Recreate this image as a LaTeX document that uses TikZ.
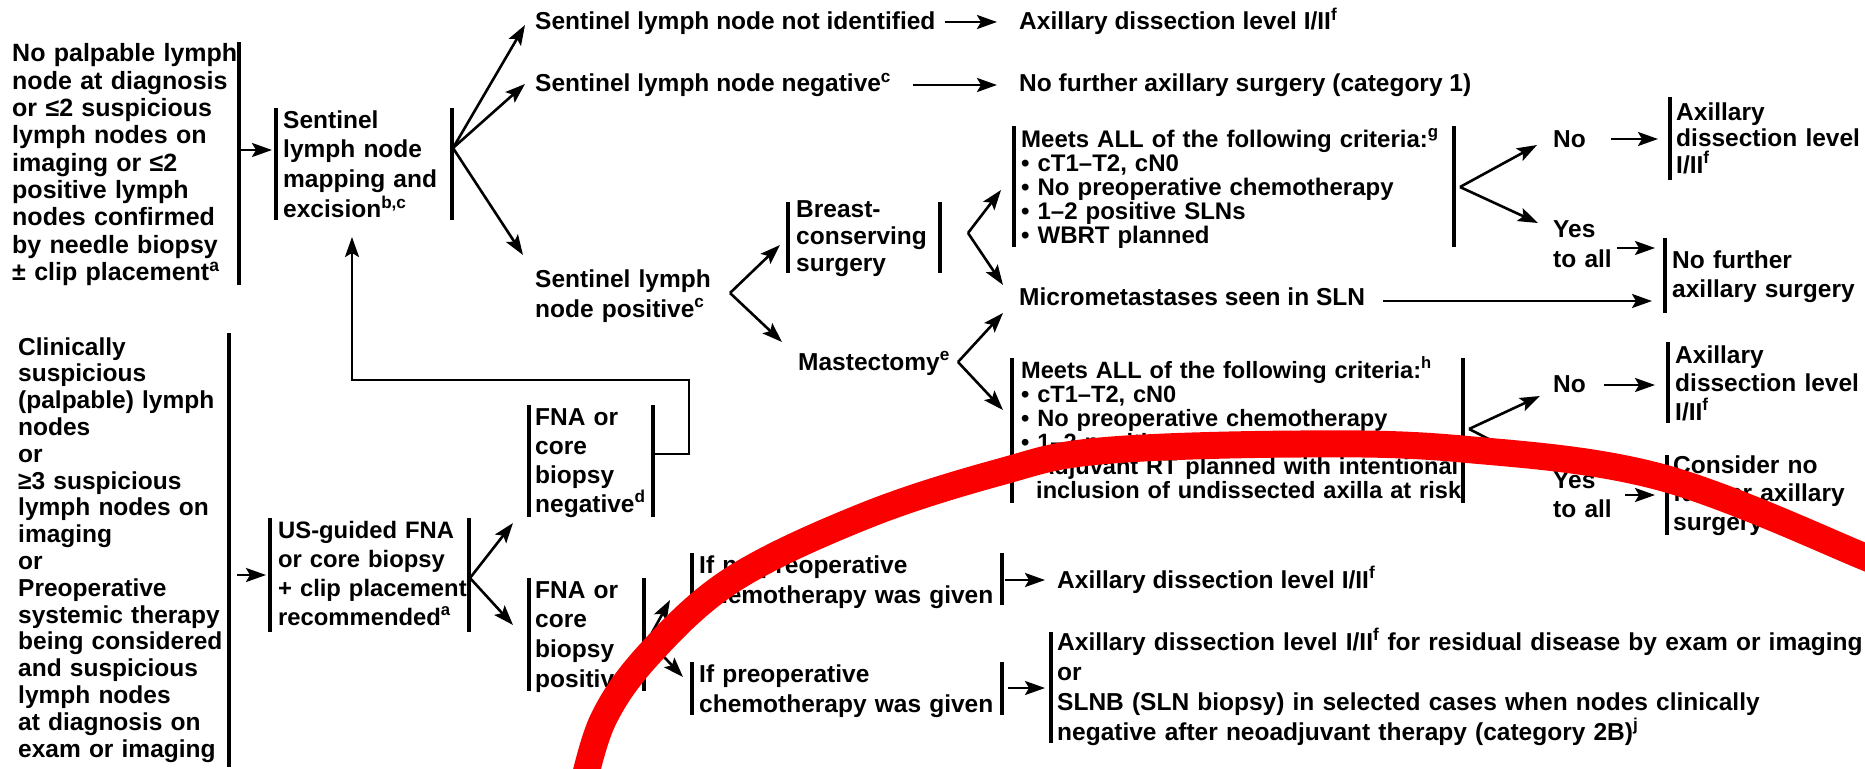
\documentclass[tikz,border=0pt]{standalone}
\usepackage{fontspec}
\setmainfont{Liberation Sans}
\usetikzlibrary{arrows.meta}
\definecolor{swooshred}{RGB}{250,0,0}
\tikzset{
  txt/.style={anchor=base west, inner sep=0pt, align=left,
    font=\bfseries\fontsize{24.5}{#1}\selectfont},
  txt/.default=28,
  txtz/.style 2 args={anchor=base west, inner sep=0pt, align=left,
    font=\bfseries\fontsize{#1}{#2}\selectfont},
  bar/.style={line width=3.2pt},
  arr/.style={line width=2.6pt, -{Stealth[length=20pt,width=14pt,inset=4pt]}},
  link/.style={line width=2.6pt, line join=miter, -{Stealth[length=20pt,width=14pt,inset=4pt]}},
  swoosh/.style={draw=swooshred, line width=27pt}
}
\begin{document}
\hyphenpenalty=10000
\exhyphenpenalty=10000
\begin{tikzpicture}[x=1pt,y=-1pt]
\useasboundingbox (0,0) rectangle (1865,768);

% ---------- left column
\node[txtz={25}{27.3}, text width=240] (A) at (12,62) {No palpable lymph\\node at diagnosis\\or ≤2 suspicious\\lymph nodes on\\imaging or ≤2\\positive lymph\\nodes confirmed\\by needle biopsy\\± clip placement\textsuperscript{a}};
\draw[bar] (239,42) -- (239,285);

\node[txt=26.8, text width=230] (C) at (18,355) {Clinically\\suspicious\\(palpable) lymph\\nodes\\or\\≥3 suspicious\\lymph nodes on\\imaging\\or\\Preoperative\\systemic therapy\\being considered\\and suspicious\\lymph nodes\\at diagnosis on\\exam or imaging};
\draw[bar] (229,333) -- (229,767);

\node[txt=29.7, text width=190] (B) at (283,128) {Sentinel\\lymph node\\mapping and\\excision\textsuperscript{b,c}};
\draw[bar] (276,108) -- (276,220) (452,108) -- (452,220);

\node[txtz={23.8}{29}, text width=220] (D) at (278,538) {US-guided FNA\\or core biopsy\\+ clip placement\\recommended\textsuperscript{a}};
\draw[bar] (270,518) -- (270,632) (469,518) -- (469,632);

\node[txt=29, text width=140] (E) at (535,425) {FNA or\\core\\biopsy\\negative\textsuperscript{d}};
\draw[bar] (529,405) -- (529,517) (653,405) -- (653,517);

\node[txt=29.7, text width=140] (F) at (535,598) {FNA or\\core\\biopsy\\positive};
\draw[bar] (529,578) -- (529,691) (644,578) -- (644,691);

% ---------- sentinel outcomes
\node[txt] (T1) at (535,30) {Sentinel lymph node not identified};
\node[txt] (T1r) at (1019,30) {Axillary dissection level I/II\textsuperscript{f}};
\node[txt] (T2) at (535,92) {Sentinel lymph node negative\textsuperscript{c}};
\node[txt] (T2r) at (1019,92) {No further axillary surgery (category 1)};
\node[txt=30, text width=220] (P) at (535,287) {Sentinel lymph\\node positive\textsuperscript{c}};

\node[txt=27, text width=170] (Bc) at (796,217) {Breast-\\conserving\\surgery};
\draw[bar] (788,202) -- (788,273) (940,202) -- (940,273);
\node[txt] (Ma) at (798,370) {Mastectomy\textsuperscript{e}};
\node[txt] (Mi) at (1019,305) {Micrometastases seen in SLN};

\node[txtz={24}{24}, text width=480] (H) at (1021,147) {Meets ALL of the following criteria:\textsuperscript{g}\\• cT1–T2, cN0\\• No preoperative chemotherapy\\• 1–2 positive SLNs\\• WBRT planned};
\draw[bar] (1014,126) -- (1014,247) (1454,126) -- (1454,247);

\node[txtz={23.6}{24}, text width=500] (I) at (1021,378) {Meets ALL of the following criteria:\textsuperscript{h}\\• cT1–T2, cN0\\• No preoperative chemotherapy\\• 1–2 positive SLNs\\• Adjuvant RT planned with intentional\\\hspace*{15pt}inclusion of undissected axilla at risk};
\draw[bar] (1012,358) -- (1012,503) (1463,358) -- (1463,503);

% ---------- right column
\node[txt] (No1) at (1553,147) {No};
\node[txt=30, text width=90] (Y1) at (1553,237) {Yes\\to all};
\node[txt=26.5, text width=220] (J) at (1676,120) {Axillary\\dissection level\\I/II\textsuperscript{f}};
\draw[bar] (1670,97) -- (1670,180);
\node[txt=29, text width=220] (K) at (1672,268) {No further\\axillary surgery};
\draw[bar] (1665,238) -- (1665,313);
\node[txt] (No2) at (1553,392) {No};
\node[txt=29, text width=90] (Y2) at (1553,488) {Yes\\to all};
\node[txt=28.5, text width=220] (L) at (1675,363) {Axillary\\dissection level\\I/II\textsuperscript{f}};
\draw[bar] (1668,342) -- (1668,423);
\node[txt=28.5, text width=220] (M) at (1673,473) {Consider no\\further axillary\\surgery\textsuperscript{k}};
\draw[bar] (1667,455) -- (1667,535);

% ---------- bottom
\node[txt=30, text width=340] (G) at (699,573) {If no preoperative\\chemotherapy was given};
\draw[bar] (692,553) -- (692,605) (1002,553) -- (1002,605);
\node[txt=30, text width=340] (Gb) at (699,682) {If preoperative\\chemotherapy was given};
\draw[bar] (692,662) -- (692,715) (1002,662) -- (1002,715);
\node[txt] (Ax3) at (1057,588) {Axillary dissection level I/II\textsuperscript{f}};
\node[txt=30, text width=850] (N) at (1057,650) {Axillary dissection level I/II\textsuperscript{f} for residual disease by exam or imaging\\or\\SLNB (SLN biopsy) in selected cases when nodes clinically\\negative after neoadjuvant therapy (category 2B)\textsuperscript{j}};
\draw[bar] (1051,632) -- (1051,743);

% ---------- connection points
\coordinate (aO) at (239,150);  \coordinate (bI) at (272,150);
\coordinate (bV) at (453,148);
\coordinate (t1I) at (525,25);  \coordinate (t2I) at (525,84);  \coordinate (pI) at (523,255);
\coordinate (t1rI) at (997,22);
\coordinate (t2rI) at (997,85);
\coordinate (pV) at (730,293);  \coordinate (bcI) at (780,245); \coordinate (maI) at (782,342);
\coordinate (bcV) at (968,233); \coordinate (hI) at (1001,190); \coordinate (miI) at (1003,285);
\coordinate (maV) at (958,362); \coordinate (miI2) at (1003,313); \coordinate (iI) at (1003,410);
\coordinate (hV) at (1460,187); \coordinate (no1I) at (1537,145); \coordinate (y1I) at (1538,223);
\coordinate (iV) at (1469,429); \coordinate (no2I) at (1540,396); \coordinate (y2I) at (1540,465);
\coordinate (no1O) at (1611,139); \coordinate (jI) at (1658,139);
\coordinate (y1O) at (1617,248);  \coordinate (kI) at (1655,248);
\coordinate (miO) at (1383,301);  \coordinate (kI2) at (1652,301);
\coordinate (no2O) at (1604,385); \coordinate (lI) at (1655,385);
\coordinate (y2O) at (1625,495);  \coordinate (mI) at (1655,495);
\coordinate (cO) at (237,575);    \coordinate (dI) at (266,575);
\coordinate (dV) at (470,578);    \coordinate (eI) at (513,523); \coordinate (fI) at (513,625);
\coordinate (fV) at (648,640);    \coordinate (gI) at (670,600); \coordinate (gbI) at (683,677);
\coordinate (gO) at (1005,580);   \coordinate (ax3I) at (1045,580);
\coordinate (gbO) at (1008,688);  \coordinate (nI) at (1045,688);
\coordinate (eO) at (653,454);    \coordinate (bB) at (352,237);

% ---------- connectors
\draw[arr] (aO) -- (bI);
\draw[arr] (bV) -- (t1I);
\draw[arr] (bV) -- (t2I);
\draw[arr] (bV) -- (pI);
\draw[arr] ([xshift=9pt,yshift=8pt]T1.base east) -- (t1rI);
\draw[arr] ([xshift=22pt,yshift=7pt]T2.base east) -- (t2rI);
\draw[arr] (pV) -- (bcI);
\draw[arr] (pV) -- (maI);
\draw[arr] (bcV) -- (hI);
\draw[arr] (bcV) -- (miI);
\draw[arr] (maV) -- (miI2);
\draw[arr] (maV) -- (iI);
\draw[arr] (hV) -- (no1I);
\draw[arr] (hV) -- (y1I);
\draw[arr] (iV) -- (no2I);
\draw[arr] (iV) -- (y2I);
\draw[arr] (no1O) -- (jI);
\draw[arr] (y1O) -- (kI);
\draw[arr] (miO) -- (kI2);
\draw[arr] (no2O) -- (lI);
\draw[arr] (y2O) -- (mI);
\draw[arr] (cO) -- (dI);
\draw[arr] (dV) -- (eI);
\draw[arr] (dV) -- (fI);
\draw[arr] (fV) -- (gI);
\draw[arr] (fV) -- (gbI);
\draw[arr] (gO) -- (ax3I);
\draw[arr] (gbO) -- (nI);
\draw[link] (eO) -- (689,454) |- (352,380) -- (bB);

% ---------- red overlay stroke
\begin{scope}
\clip (0,0) rectangle (1865,768);
\draw[swoosh] plot[smooth, tension=0.6] coordinates {(580,800) (603,720) (652,651) (735,578) (867,515) (1000,472) (1100,451) (1300,444) (1462,449) (1660,477) (1865,557) (1900,575)};
\end{scope}
\end{tikzpicture}
\end{document}
